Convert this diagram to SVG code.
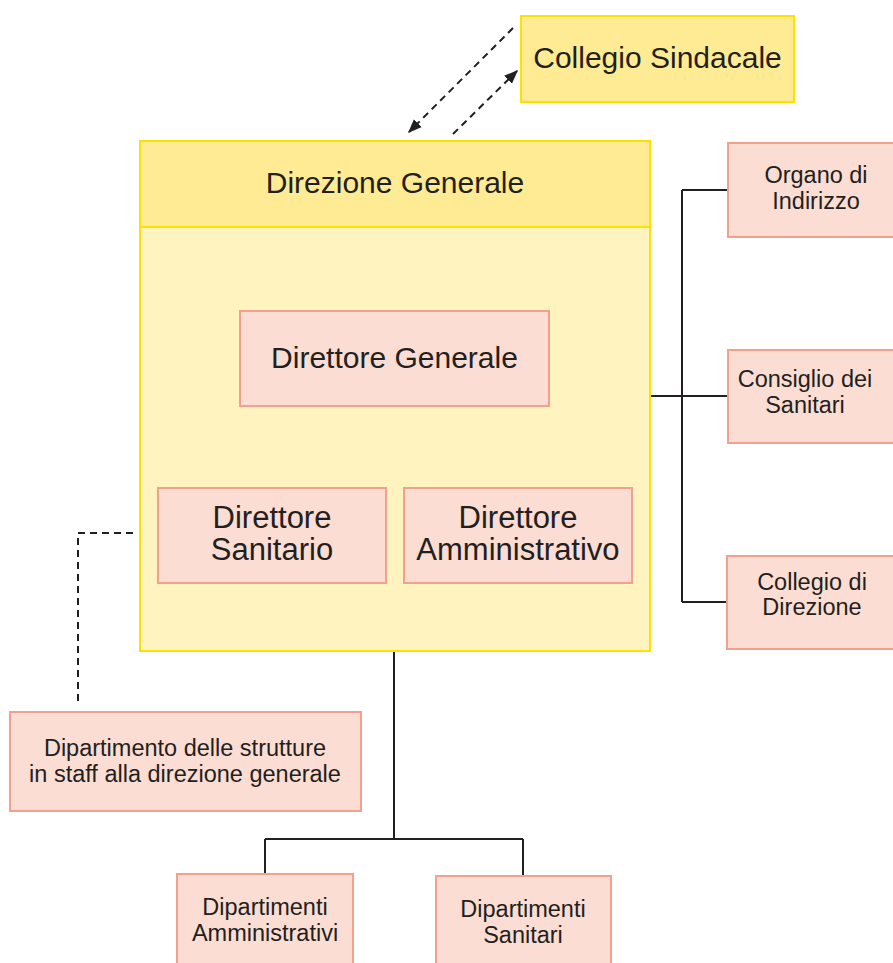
<svg xmlns="http://www.w3.org/2000/svg" width="893" height="963" viewBox="0 0 893 963">
<style>
.pink{fill:#FBDDD3;stroke:#F4A08E;stroke-width:2}
.yel{fill:#FFEB94;stroke:#FFE100;stroke-width:2}
.body{fill:#FFF3BF;stroke:#FFE100;stroke-width:2}
text{font-family:"Liberation Sans",Arial,sans-serif;fill:#231F20;text-anchor:middle}
.big{font-size:30px}
.mid{font-size:31px}
.sm{font-size:23.5px}
.ln{fill:none;stroke:#231F20;stroke-width:2}
.dash{fill:none;stroke:#231F20;stroke-width:2;stroke-dasharray:7 5}
</style>
<defs>
<marker id="ah" viewBox="0 0 10 10" refX="9" refY="5" markerWidth="7" markerHeight="7" markerUnits="userSpaceOnUse" orient="auto">
<path d="M0,0 L10,5 L0,10 z" fill="#231F20"/>
</marker>
<marker id="ah2" viewBox="0 0 10 10" refX="9" refY="5" markerWidth="14" markerHeight="14" markerUnits="userSpaceOnUse" orient="auto">
<path d="M0,1 L10,5 L0,9 z" fill="#231F20"/>
</marker>
</defs>
<rect width="893" height="963" fill="#fff"/>
<g id="connectors">
<path class="ln" d="M682,190 V602 M682,190 H728 M650,396 H728 M682,602 H727"/>
<path class="ln" d="M394,651 V839 M265,839 H523 M265,839 V874 M523,839 V876"/>
<path class="dash" d="M133,533 H78 V705"/>
<path class="dash" d="M513,28 L409,132" marker-end="url(#ah2)"/>
<path class="dash" d="M453,134 L517,71" marker-end="url(#ah2)"/>
</g>
<g id="collegio-sindacale">
<rect class="yel" x="521" y="16" width="273" height="86"/>
<text class="big" x="657.5" y="68">Collegio Sindacale</text>
</g>
<g id="direzione-generale">
<rect class="body" x="140" y="227" width="510" height="424"/>
<rect class="yel" x="140" y="141" width="510" height="86"/>
<text class="big" x="395" y="193">Direzione Generale</text>
</g>
<g id="direttore-generale">
<rect class="pink" x="240" y="311" width="309" height="95"/>
<text class="big" x="394.5" y="368">Direttore Generale</text>
</g>
<g id="direttore-sanitario">
<rect class="pink" x="158" y="488" width="228" height="95"/>
<text class="mid" x="272" y="528">Direttore</text>
<text class="mid" x="272" y="560">Sanitario</text>
</g>
<g id="direttore-amministrativo">
<rect class="pink" x="404" y="488" width="228" height="95"/>
<text class="mid" x="518" y="528">Direttore</text>
<text class="mid" x="518" y="560">Amministrativo</text>
</g>
<g id="organo-indirizzo">
<rect class="pink" x="728" y="143" width="170" height="94"/>
<text class="sm" x="816" y="183">Organo di</text>
<text class="sm" x="816" y="209">Indirizzo</text>
</g>
<g id="consiglio-sanitari">
<rect class="pink" x="728" y="350" width="170" height="93"/>
<text class="sm" x="805" y="387">Consiglio dei</text>
<text class="sm" x="805" y="413">Sanitari</text>
</g>
<g id="collegio-direzione">
<rect class="pink" x="727" y="556" width="171" height="93"/>
<text class="sm" x="812" y="590">Collegio di</text>
<text class="sm" x="812" y="615">Direzione</text>
</g>
<g id="dipartimento-staff">
<rect class="pink" x="10" y="712" width="351" height="99"/>
<text class="sm" x="185" y="756">Dipartimento delle strutture</text>
<text class="sm" x="185" y="782">in staff alla direzione generale</text>
</g>
<g id="dipartimenti-amministrativi">
<rect class="pink" x="177" y="874" width="176" height="95"/>
<text class="sm" x="265" y="915">Dipartimenti</text>
<text class="sm" x="265" y="941">Amministrativi</text>
</g>
<g id="dipartimenti-sanitari">
<rect class="pink" x="436" y="876" width="175" height="95"/>
<text class="sm" x="523" y="917">Dipartimenti</text>
<text class="sm" x="523" y="943">Sanitari</text>
</g>
</svg>
